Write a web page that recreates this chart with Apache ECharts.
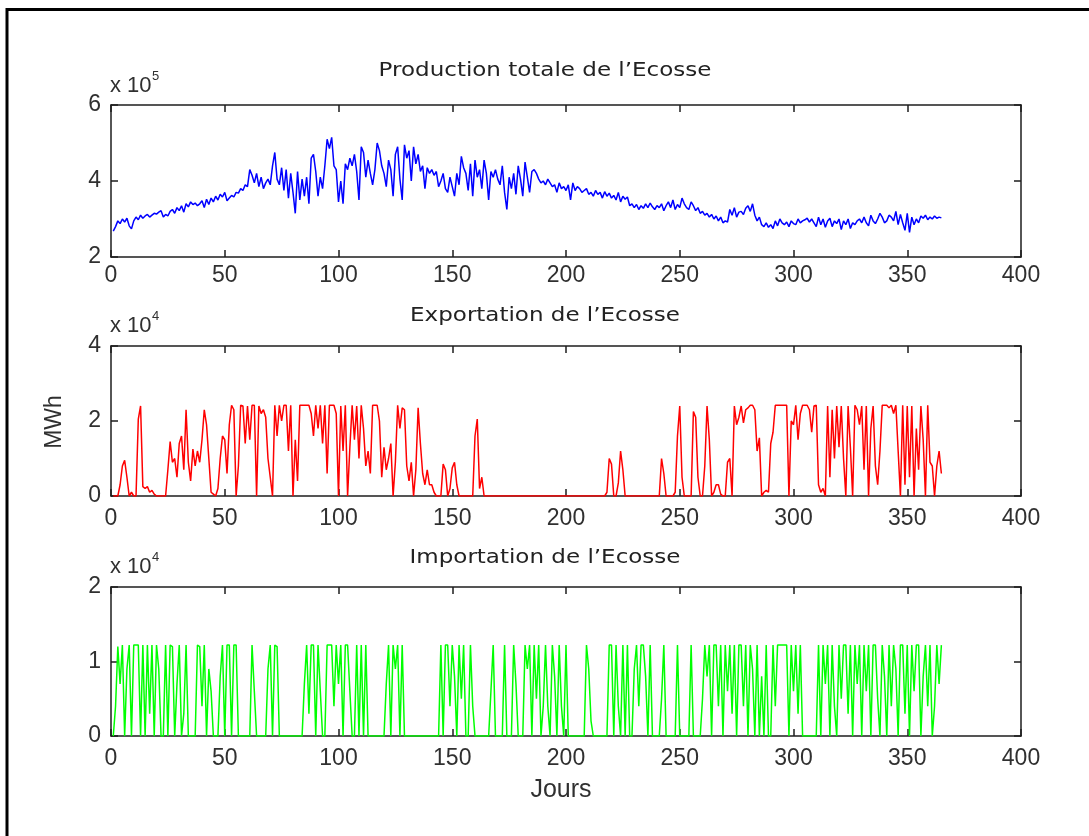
<!DOCTYPE html>
<html>
<head>
<meta charset="utf-8">
<title>Production, exportation et importation de l’Ecosse</title>
<script src="https://cdn.jsdelivr.net/npm/echarts@6/dist/echarts.min.js"></script>
<style>
  html, body { margin: 0; padding: 0; background: #fff; }
  #chart { width: 1089px; height: 836px; }
</style>
</head>
<body>
<div id="chart"></div>
<script>
// Daily values, days 1..365
// Production totale (x 10^5 MWh)
const production = [
  2.68, 2.80, 2.95, 2.88, 3.00, 2.92, 3.02, 2.82, 2.74, 2.95,
  3.05, 2.98, 3.10, 3.02, 3.08, 3.12, 3.05, 3.10, 3.15, 3.13,
  3.18, 3.22, 3.05, 3.12, 3.08, 3.20, 3.25, 3.15, 3.30, 3.22,
  3.35, 3.18, 3.40, 3.32, 3.45, 3.38, 3.42, 3.35, 3.40, 3.48,
  3.30, 3.52, 3.38, 3.55, 3.45, 3.60, 3.50, 3.65, 3.58, 3.70,
  3.48, 3.55, 3.62, 3.58, 3.70, 3.68, 3.80, 3.75, 3.90, 3.85,
  4.30, 4.15, 3.95, 4.20, 3.85, 4.10, 3.80, 3.95, 4.05, 3.90,
  4.40, 4.75, 4.05, 3.90, 4.35, 3.75, 4.30, 3.55, 4.20, 3.70,
  3.15, 4.25, 3.50, 4.05, 3.60, 4.10, 3.40, 4.60, 4.70, 4.25,
  3.60, 4.10, 3.80, 4.40, 5.10, 4.85, 5.15, 4.40, 4.30, 3.45,
  4.00, 3.40, 4.45, 4.30, 4.60, 4.40, 4.70, 4.25, 3.50, 4.90,
  4.75, 4.10, 4.55, 4.20, 3.90, 4.30, 5.00, 4.80, 4.40, 4.20,
  3.85, 4.55, 4.30, 3.60, 4.70, 4.90, 4.05, 3.50, 4.95, 4.60,
  4.80, 4.00, 4.90, 4.45, 4.70, 4.25, 4.40, 3.80, 4.35, 4.20,
  4.30, 4.15, 4.25, 3.85, 4.00, 4.20, 3.80, 3.70, 4.10, 3.85,
  3.60, 4.20, 3.90, 4.65, 4.35, 4.20, 3.75, 4.45, 3.60, 4.55,
  4.10, 4.30, 3.80, 4.55, 4.20, 3.50, 4.25, 4.10, 4.30, 4.05,
  3.90, 4.40, 3.70, 3.25, 4.10, 3.80, 4.20, 3.65, 4.40, 4.05,
  3.60, 4.50, 4.10, 3.70, 4.25, 4.30, 4.20, 4.05, 3.95, 4.00,
  3.90, 4.05, 3.95, 3.85, 3.90, 3.70, 3.95, 3.80, 3.85, 3.75,
  3.90, 3.50, 3.95, 3.75, 3.85, 3.80, 3.70, 3.75, 3.80, 3.65,
  3.70, 3.60, 3.75, 3.65, 3.70, 3.55, 3.72, 3.60, 3.68, 3.55,
  3.62, 3.50, 3.70, 3.45, 3.60, 3.52, 3.58, 3.35, 3.40, 3.30,
  3.38, 3.25, 3.35, 3.28, 3.40, 3.30, 3.42, 3.32, 3.25, 3.35,
  3.30, 3.40, 3.22, 3.35, 3.45, 3.30, 3.50, 3.25, 3.38, 3.30,
  3.55, 3.40, 3.30, 3.25, 3.45, 3.35, 3.22, 3.30, 3.15, 3.20,
  3.10, 3.15, 3.05, 3.12, 3.00, 3.08, 2.95, 3.05, 2.90, 2.95,
  2.92, 3.25, 3.10, 3.30, 3.05, 3.18, 3.20, 3.12, 3.28, 3.35,
  3.20, 3.40, 3.10, 2.95, 3.05, 2.85, 2.80, 2.90, 2.78, 2.85,
  2.75, 2.95, 2.82, 3.00, 2.90, 2.85, 2.92, 2.80, 2.95, 2.88,
  2.85, 3.00, 2.90, 2.95, 2.98, 3.02, 2.92, 3.00, 2.90, 2.80,
  3.05, 2.85, 3.00, 2.78, 2.95, 3.02, 2.80, 2.95, 2.88, 3.00,
  2.72, 2.95, 2.85, 3.00, 2.75, 2.90, 2.85, 2.95, 3.00, 2.90,
  3.05, 2.90, 2.82, 3.10, 2.95, 2.88, 3.00, 3.15, 3.05, 2.90,
  2.95, 3.10, 3.05, 2.95, 3.20, 2.85, 3.12, 2.90, 2.70, 3.15,
  2.65, 3.05, 2.85, 3.00, 2.90, 3.08, 3.02, 3.10, 2.98, 3.05,
  3.00, 3.08, 3.02, 3.05, 3.03
];

// Exportation (x 10^4 MWh)
const exportation = [
  0, 0, 0, 0.3, 0.8, 0.95, 0.5, 0, 0.1, 0,
  0, 2.05, 2.4, 0.25, 0.2, 0.25, 0.1, 0.15, 0.05, 0,
  0, 0, 0, 0, 0.7, 1.45, 0.9, 1.0, 0.5, 1.4,
  1.6, 0.7, 2.3, 0.9, 0.4, 1.25, 0.8, 1.2, 0.9, 1.5,
  2.3, 1.9, 1.0, 0.1, 0.05, 0, 0.2, 1.0, 1.6, 1.5,
  0.6, 1.9, 2.42, 2.3, 0, 0.8, 2.42, 2.4, 1.4, 2.4,
  1.5, 2.42, 2.42, 0, 2.4, 2.2, 2.3, 2.1, 1.0, 0.5,
  0, 2.42, 1.6, 2.42, 2.0, 2.42, 2.42, 1.2, 2.42, 0,
  1.5, 0.4, 2.42, 2.42, 2.42, 2.42, 2.42, 2.2, 1.6, 2.42,
  1.8, 2.42, 1.4, 2.42, 0.6, 2.42, 2.42, 2.42, 2.2, 0,
  2.4, 1.2, 2.42, 0, 1.3, 2.42, 1.5, 2.4, 1.0, 2.42,
  1.8, 0.8, 1.2, 0.6, 2.42, 2.42, 2.42, 2.0, 0.5, 1.3,
  0.7, 1.0, 1.4, 0, 0.9, 2.42, 1.8, 2.35, 2.3, 0.8,
  0.4, 0.9, 0, 0.7, 2.35, 1.4, 0.6, 0.3, 0.7, 0.3,
  0.3, 0.1, 0, 0, 0, 0.85, 0.7, 0, 0.2, 0.75,
  0.9, 0.3, 0, 0, 0, 0, 0, 0, 0, 1.6,
  2.05, 0.2, 0.5, 0, 0, 0, 0, 0, 0, 0,
  0, 0, 0, 0, 0, 0, 0, 0, 0, 0,
  0, 0, 0, 0, 0, 0, 0, 0, 0, 0,
  0, 0, 0, 0, 0, 0, 0, 0, 0, 0,
  0, 0, 0, 0, 0, 0, 0, 0, 0, 0,
  0, 0, 0, 0, 0, 0, 0, 0.1, 1.0, 0.85,
  0, 0, 0.35, 1.2, 0.7, 0, 0, 0, 0, 0,
  0, 0, 0, 0, 0, 0, 0, 0, 0, 0,
  0, 1.0, 0.6, 0, 0, 0, 0, 0.1, 1.6, 2.4,
  0.5, 0, 0, 0, 0, 2.25, 2.1, 0.5, 0, 0,
  0.8, 2.4, 1.5, 0, 0.1, 0.3, 0.3, 0.05, 0, 0,
  0.9, 1.0, 0, 2.4, 1.9, 2.1, 2.4, 1.95, 2.3, 2.35,
  2.42, 2.42, 2.3, 1.2, 1.55, 0, 0.1, 0.15, 0.1, 1.4,
  1.7, 2.42, 2.42, 2.42, 2.42, 2.42, 2.42, 0, 2.0, 1.9,
  2.42, 1.5, 2.2, 2.42, 2.42, 2.42, 2.3, 1.7, 2.4, 2.42,
  0.3, 0.1, 0.2, 0, 2.4, 0.5, 2.3, 1.0, 2.4, 1.3,
  2.4, 1.0, 0, 2.4, 1.3, 0, 2.42, 2.3, 1.9, 2.4,
  0.7, 2.4, 0, 1.8, 2.4, 0.8, 0.3, 1.2, 2.42, 2.42,
  2.42, 2.35, 2.42, 2.2, 2.42, 1.2, 0, 2.42, 0.3, 2.4,
  0.5, 2.4, 0, 1.8, 0.7, 2.4, 1.5, 0, 2.42, 0.9,
  0.8, 0, 0.8, 1.2, 0.6
];

// Importation (x 10^4 MWh)
const importation = [
  0, 0.4, 1.2, 0.7, 1.22, 0, 0.9, 1.22, 0, 1.22,
  1.22, 1.22, 0, 1.22, 0, 1.22, 0.3, 1.22, 0, 1.22,
  0.9, 0, 0, 1.22, 0, 1.22, 1.2, 0, 0.7, 1.22,
  0, 0.3, 1.22, 0, 0, 0, 0, 1.22, 1.2, 0.4,
  1.22, 0, 0.9, 0.6, 0, 0, 0, 0.8, 1.22, 0,
  1.22, 1.22, 0, 1.22, 1.22, 0, 0, 0, 0, 0,
  0, 1.22, 0.6, 0, 0, 0, 0, 0, 0.9, 1.22,
  0, 1.22, 1.2, 0, 0, 0, 0, 0, 0, 0,
  0, 0, 0, 0, 0.7, 1.22, 0.3, 1.22, 1.22, 0,
  1.22, 0.6, 0, 0, 1.22, 1.22, 1.22, 0.4, 1.22, 0.7,
  1.22, 0, 1.22, 1.22, 0.6, 0, 0, 1.22, 0, 1.22,
  0, 1.22, 0, 0, 0, 0, 0, 0, 0, 0,
  0.7, 1.22, 0, 1.22, 0.9, 1.22, 0, 1.22, 0, 0,
  0, 0, 0, 0, 0, 0, 0, 0, 0, 0,
  0, 0, 0, 0, 1.22, 0, 1.22, 1.22, 0.4, 1.22,
  0.8, 0, 1.22, 0.5, 1.22, 0, 0, 1.22, 0.4, 0,
  0, 0, 0, 0, 0, 0, 0.6, 1.22, 0, 0,
  0, 0, 1.22, 0, 0, 0, 1.22, 0.7, 0, 0,
  0, 1.22, 0.9, 1.22, 0, 1.22, 0.5, 1.22, 0, 0.4,
  1.22, 0.4, 0, 1.22, 0.8, 0, 1.22, 0.4, 0, 1.22,
  0, 0, 0, 0, 0, 0, 0, 0, 1.22, 0.9,
  0.2, 0, 0, 0, 0, 0, 0, 0, 1.22, 1.22,
  0, 1.22, 0.4, 0, 1.22, 0, 1.22, 0, 0, 0.9,
  1.22, 0.4, 1.22, 1.22, 0.8, 0, 1.22, 0, 0, 0,
  0, 0.5, 1.22, 0, 0, 0, 0, 0, 1.22, 0,
  0, 0, 0, 0, 1.22, 0, 0, 0, 0, 0.5,
  1.22, 0.8, 1.22, 0, 1.22, 1.22, 0.4, 1.22, 0, 1.22,
  0.6, 1.22, 0.3, 1.22, 0, 1.22, 1.22, 0.4, 1.22, 0,
  1.22, 0.9, 0, 1.22, 0, 0.8, 0, 1.22, 0, 0,
  1.22, 0.4, 1.22, 1.22, 1.22, 1.22, 1.22, 0, 1.22, 0.6,
  1.22, 0.3, 1.22, 0, 0, 0, 0, 0, 0, 0,
  1.22, 0, 1.22, 0.7, 1.22, 0, 1.22, 0.4, 0, 1.22,
  0.5, 1.22, 1.22, 0.3, 1.22, 0, 1.22, 0.7, 1.22, 0,
  1.22, 0.6, 1.22, 0, 1.22, 1.22, 0.5, 0, 1.22, 0.8,
  0, 1.22, 0.4, 1.22, 0.9, 0, 1.22, 1.22, 0.3, 1.22,
  0, 1.22, 0.6, 1.22, 1.22, 0, 0.8, 1.22, 0.4, 1.22,
  0, 0.4, 1.22, 0.7, 1.22
];

const titles = ['Production totale de l’Ecosse', 'Exportation de l’Ecosse', 'Importation de l’Ecosse'];
const exponents = ['5', '4', '4'];
const xTicks = { min: 0, max: 400, interval: 50 };
const yTicks = [
  { min: 2, max: 6, interval: 2 },
  { min: 0, max: 4, interval: 2 },
  { min: 0, max: 2, interval: 1 }
];
const colors = ['#0000ff', '#ff0000', '#00ff00'];
const seriesValues = [production, exportation, importation];

// Plot boxes (pixels) and text rows above each box
const boxes = [
  { left: 111, top: 105, width: 910, height: 152, titleY: 71, scaleY: 86, labelGap: 7 },
  { left: 111, top: 346, width: 910, height: 150, titleY: 316, scaleY: 326, labelGap: 11 },
  { left: 111, top: 587, width: 910, height: 149, titleY: 558, scaleY: 567, labelGap: 11 }
];

const axisColor = '#1e1e1e';
const textColor = '#303030';
const labelFont = 'Liberation Sans, Arial, sans-serif';
const titleFont = 'DejaVu Sans, Verdana, sans-serif';

const chart = echarts.init(document.getElementById('chart'), null, { renderer: 'canvas' });

const grid = [], xAxis = [], yAxis = [], series = [], graphic = [];

// Outer frame
graphic.push({
  type: 'rect', z: 0,
  shape: { x: 7, y: 9.5, width: 1200, height: 1000 },
  style: { fill: 'none', stroke: '#000', lineWidth: 3 }
});

boxes.forEach((b, i) => {
  grid.push({ left: b.left, top: b.top, width: b.width, height: b.height, containLabel: false });
  const tickStyle = { show: true, inside: true, length: 7, lineStyle: { color: axisColor, width: 1.5 } };
  const lineStyle = { show: true, onZero: false, lineStyle: { color: axisColor, width: 1.5 } };
  // bottom axis with labels, top mirror
  xAxis.push({
    type: 'value', gridIndex: i, position: 'bottom',
    min: xTicks.min, max: xTicks.max, interval: xTicks.interval,
    axisLine: lineStyle, axisTick: tickStyle, splitLine: { show: false },
    axisLabel: { show: true, margin: b.labelGap, fontSize: 23, color: textColor, fontFamily: labelFont }
  });
  xAxis.push({
    type: 'value', gridIndex: i, position: 'top',
    min: xTicks.min, max: xTicks.max, interval: xTicks.interval,
    axisLine: lineStyle, axisTick: tickStyle, splitLine: { show: false },
    axisLabel: { show: false }
  });
  yAxis.push({
    type: 'value', gridIndex: i, position: 'left',
    min: yTicks[i].min, max: yTicks[i].max, interval: yTicks[i].interval,
    axisLine: lineStyle, axisTick: tickStyle, splitLine: { show: false },
    axisLabel: { show: true, margin: 10, fontSize: 23, color: textColor, fontFamily: labelFont }
  });
  yAxis.push({
    type: 'value', gridIndex: i, position: 'right',
    min: yTicks[i].min, max: yTicks[i].max, interval: yTicks[i].interval,
    axisLine: lineStyle, axisTick: tickStyle, splitLine: { show: false },
    axisLabel: { show: false }
  });
  series.push({
    type: 'line', name: titles[i],
    xAxisIndex: i * 2, yAxisIndex: i * 2,
    data: seriesValues[i].map((v, d) => [d + 1, v]),
    showSymbol: false, symbol: 'none',
    lineStyle: { color: colors[i], width: 1.5 },
    animation: false
  });
  // subplot title
  graphic.push({
    type: 'text', x: 545, y: b.titleY, scaleX: 1.15,
    style: { text: titles[i], font: '20px ' + titleFont, fill: '#222', align: 'center', verticalAlign: 'middle' }
  });
  // scale factor "x 10^n"
  graphic.push({
    type: 'text', x: b.left - 1, y: b.scaleY,
    style: { text: 'x 10', font: '22px ' + labelFont, fill: textColor, verticalAlign: 'middle' }
  });
  graphic.push({
    type: 'text', x: b.left + 41, y: b.scaleY - 10,
    style: { text: exponents[i], font: '13px ' + labelFont, fill: textColor, verticalAlign: 'middle' }
  });
});

// Axis names
graphic.push({
  type: 'text', x: 55, y: 422, rotation: Math.PI / 2,
  style: { text: 'MWh', font: '23px ' + labelFont, fill: textColor, align: 'center', verticalAlign: 'middle' }
});
graphic.push({
  type: 'text', x: 561, y: 790,
  style: { text: 'Jours', font: '25px ' + labelFont, fill: textColor, align: 'center', verticalAlign: 'middle' }
});

chart.setOption({
  animation: false,
  backgroundColor: '#fff',
  grid, xAxis, yAxis, series, graphic
});
</script>
</body>
</html>
